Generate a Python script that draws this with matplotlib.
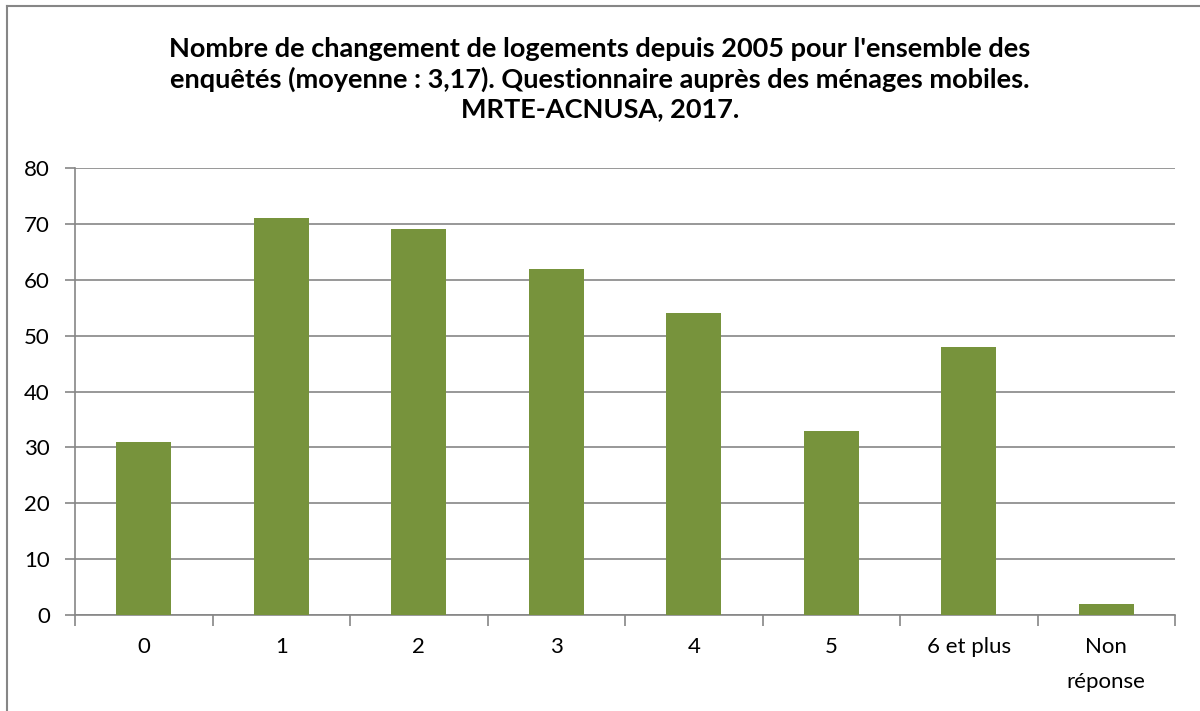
import matplotlib

matplotlib.use("Agg")

import matplotlib.pyplot as plt
from matplotlib.lines import Line2D
import numpy as np

categories = ["0", "1", "2", "3", "4", "5", "6 et plus", "Non\nréponse"]
counts = [31, 71, 69, 62, 54, 33, 48, 2]
y_ticks = [0, 10, 20, 30, 40, 50, 60, 70, 80]

title = ("Nombre de changement de logements depuis 2005 pour l'ensemble des\n"
         "enquêtés (moyenne : 3,17). Questionnaire auprès des ménages mobiles.\n"
         "MRTE-ACNUSA, 2017.")

plt.rcParams["font.family"] = ["Lato", "DejaVu Sans"]

grid_color = "#868686"
bar_color = "#77933C"

fig = plt.figure(figsize=(12, 7.11), dpi=100)
ax = fig.add_axes([75 / 1200, 1 - 615 / 711, 1100 / 1200, 447 / 711])

x = np.arange(len(categories))
ax.bar(x, counts, width=0.4, color=bar_color, edgecolor="none", zorder=3)

ax.set_xlim(-0.5, len(categories) - 0.5)
ax.set_ylim(0, 80)
ax.set_yticks(y_ticks)
ax.set_yticklabels([str(v) for v in y_ticks])
ax.yaxis.grid(True, color=grid_color, linewidth=1.2, zorder=0)
ax.tick_params(axis="y", length=7, width=1.2, color=grid_color, pad=11, labelsize=16)

ax.set_xticks(x)
ax.set_xticklabels(categories, linespacing=1.9)
ax.set_xticks(np.arange(len(categories) + 1) - 0.5, minor=True)
ax.tick_params(axis="x", which="major", length=0, pad=16, labelsize=16)
ax.tick_params(axis="x", which="minor", length=8, width=1.2, color=grid_color)

for side in ("top", "right"):
    ax.spines[side].set_visible(False)
for side in ("left", "bottom"):
    ax.spines[side].set_color(grid_color)
    ax.spines[side].set_linewidth(1.2)

fig.text(0.5, 1 - 79 / 711, title, ha="center", va="center", fontsize=19.5,
         fontweight="bold", linespacing=1.28)

# outer chart frame
fig.add_artist(Line2D([7 / 1200, 7 / 1200], [0, 1 - 6 / 711], color=grid_color,
                      linewidth=1.5, transform=fig.transFigure))
fig.add_artist(Line2D([7 / 1200, 1], [1 - 6 / 711, 1 - 6 / 711], color=grid_color,
                      linewidth=1.5, transform=fig.transFigure))

fig.savefig("out.png", dpi=100)
plt.close(fig)
